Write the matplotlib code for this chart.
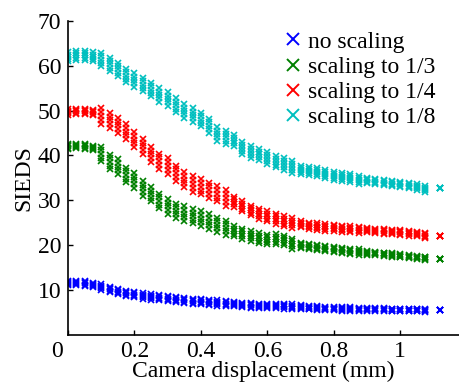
import matplotlib
matplotlib.use("Agg")
import matplotlib.pyplot as plt
from matplotlib.lines import Line2D
import numpy as np

plt.rcParams['font.family'] = ['Liberation Serif', 'DejaVu Serif']

# ---- data ----
x = [0.000, 0.025, 0.050, 0.075, 0.100, 0.125, 0.150, 0.175, 0.200, 0.225,
     0.250, 0.275, 0.300, 0.325, 0.350, 0.375, 0.400, 0.425, 0.450, 0.475,
     0.500, 0.525, 0.550, 0.575, 0.600, 0.625, 0.650, 0.675, 0.700, 0.725,
     0.750, 0.775, 0.800, 0.825, 0.850, 0.875, 0.900, 0.925, 0.950, 0.975,
     1.000, 1.025, 1.050, 1.075, 1.120]

no_scaling = [11.5, 11.5, 11.4, 11.1, 10.6, 10.1, 9.6, 9.2, 8.9, 8.6,
              8.4, 8.2, 8.0, 7.8, 7.6, 7.4, 7.3, 7.2, 7.0, 6.9,
              6.8, 6.6, 6.5, 6.4, 6.4, 6.4, 6.3, 6.2, 6.1, 6.0,
              5.9, 5.8, 5.8, 5.7, 5.7, 5.6, 5.6, 5.6, 5.6, 5.5,
              5.5, 5.5, 5.5, 5.4, 5.5]
scaling_1_3 = [42.0, 42.1, 42.0, 41.6, 40.3, 38.5, 37.5, 35.6, 34.4, 32.6,
               31.3, 29.8, 28.6, 27.6, 27.0, 26.4, 25.9, 25.2, 24.5, 23.8,
               23.1, 22.5, 22.0, 21.5, 21.2, 21.3, 21.0, 20.3, 19.9, 19.6,
               19.4, 19.2, 19.0, 18.8, 18.6, 18.4, 18.2, 18.1, 17.9, 17.8,
               17.6, 17.4, 17.2, 17.0, 16.8]
scaling_1_4 = [49.7, 49.8, 49.8, 49.6, 48.8, 47.8, 46.7, 45.3, 43.5, 42.0,
               40.2, 38.7, 37.6, 36.0, 34.6, 33.6, 33.0, 32.2, 31.4, 30.5,
               29.6, 28.6, 27.7, 27.0, 26.4, 25.8, 25.3, 24.9, 24.6, 24.3,
               24.1, 23.9, 23.8, 23.6, 23.5, 23.4, 23.3, 23.1, 23.0, 22.9,
               22.8, 22.6, 22.4, 22.1, 21.9]
scaling_1_8 = [62.0, 62.3, 62.3, 62.0, 61.4, 60.3, 59.2, 57.8, 56.8, 55.8,
               54.7, 53.5, 52.6, 51.2, 49.9, 49.0, 48.0, 46.6, 44.8, 44.0,
               43.3, 41.6, 40.8, 40.2, 39.4, 38.6, 38.0, 37.4, 36.8, 36.5,
               36.2, 35.8, 35.4, 35.2, 34.9, 34.6, 34.4, 34.1, 33.9, 33.7,
               33.5, 33.2, 32.9, 32.5, 32.7]

# half-thickness of each scatter band
spread_none = [0.5]*4 + [0.6]*16 + [0.5]*8 + [0.4]*8 + [0.3]*8 + [0.0]
spread_1_3 = [0.5]*4 + [1.6]*16 + [1.1]*8 + [0.6]*8 + [0.4]*8 + [0.0]
spread_1_4 = [0.6]*4 + [1.7]*16 + [1.1]*8 + [0.7]*8 + [0.5]*8 + [0.0]
spread_1_8 = [1.0]*4 + [1.5]*16 + [1.3]*8 + [0.9]*8 + [0.6]*8 + [0.0]

labels = ['no scaling', 'scaling to 1/3', 'scaling to 1/4', 'scaling to 1/8']
colors = ['#0000ff', '#008000', '#ff0000', '#00bfbf']
series = [no_scaling, scaling_1_3, scaling_1_4, scaling_1_8]
spreads = [spread_none, spread_1_3, spread_1_4, spread_1_8]

xticks = [0, 0.2, 0.4, 0.6, 0.8, 1.0]
xticklabels = ['', '0.2', '0.4', '0.6', '0.8', '1']
yticks = [10, 20, 30, 40, 50, 60, 70]

FS = 17
fig = plt.figure(figsize=(4.59, 3.87), dpi=100)
ax = fig.add_axes([68/459, 52.5/387, 391/459, 313.5/387])

for ys, sp, c in zip(series, spreads, colors):
    ys = np.asarray(ys); sp = np.asarray(sp)
    for k in (-1.0, -0.5, 0.0, 0.5, 1.0):
        ax.plot(x, ys + k*sp, 'x', color=c, ms=5.0, mew=1.2, linestyle='none')

ax.set_xlim(0, 1.177)
ax.set_ylim(0, 70)
ax.set_xticks(xticks)
ax.set_xticklabels(xticklabels)
ax.set_yticks(yticks)
ax.annotate('0', xy=(0, 0), xycoords=('data', 'axes fraction'),
            xytext=(-8, -5), textcoords='offset points',
            ha='center', va='top', fontsize=FS)
for s in ('top', 'right'):
    ax.spines[s].set_visible(False)
for s in ('left', 'bottom'):
    ax.spines[s].set_linewidth(1.2)
ax.tick_params(direction='in', length=3.6, width=1.0, labelsize=FS, pad=5)
ax.set_xlabel('Camera displacement (mm)', fontsize=FS, labelpad=-1)
ax.set_ylabel('SIEDS', fontsize=FS, labelpad=2)

handles = [Line2D([], [], marker='x', color=c, linestyle='none', ms=8, mew=1.4)
           for c in colors]
fig.legend(handles, labels, loc='upper left',
           bbox_to_anchor=(286/459, 1 - 31/387), frameon=False,
           borderpad=0, borderaxespad=0, handlelength=0.6,
           handletextpad=0.35, labelspacing=0.16, fontsize=FS)

fig.savefig('out.png', dpi=100)
